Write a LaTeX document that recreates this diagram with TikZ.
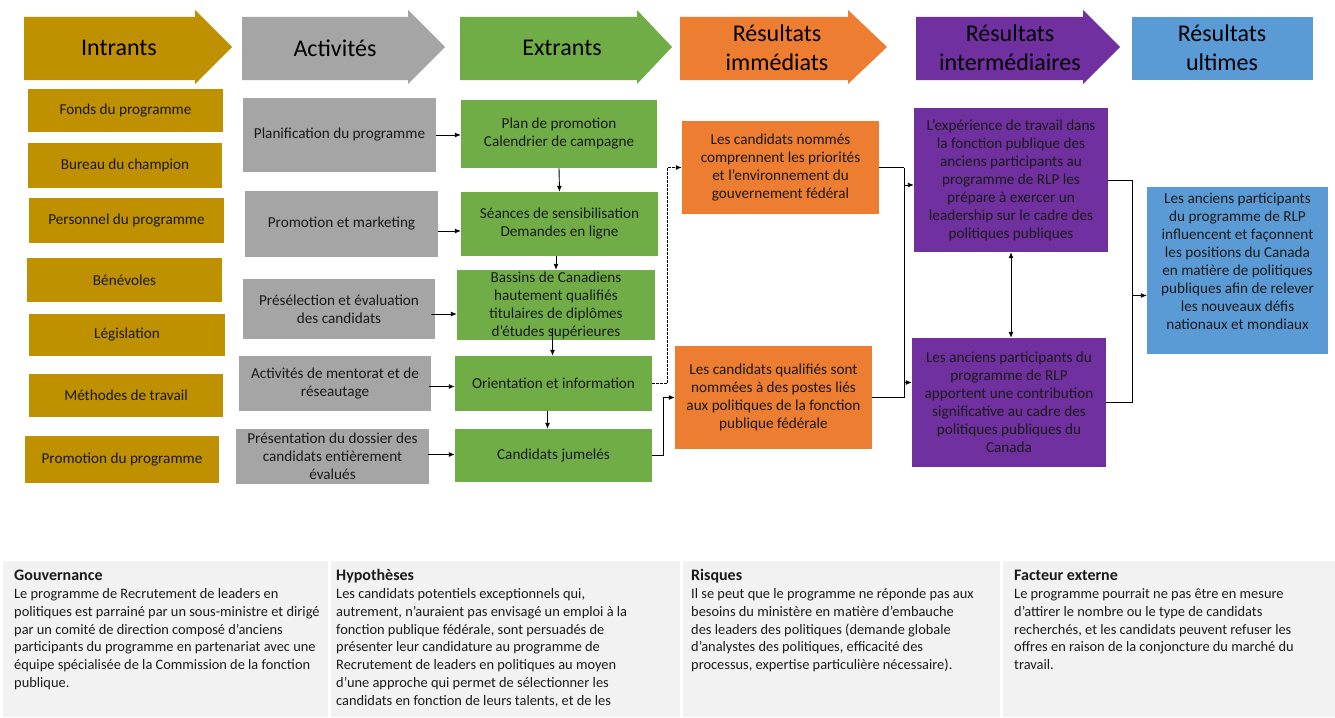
\documentclass[tikz,border=0pt]{standalone}
\usepackage{fontspec}
\setmainfont{Carlito}
\usetikzlibrary{arrows.meta,calc}
\definecolor{cgold}{HTML}{BF9000}
\definecolor{cgray}{HTML}{A5A5A5}
\definecolor{cgreen}{HTML}{70AD47}
\definecolor{corange}{HTML}{ED7D31}
\definecolor{cpurple}{HTML}{7030A0}
\definecolor{cblue}{HTML}{5B9BD5}
\definecolor{cpanel}{HTML}{F2F2F2}
\definecolor{ctext}{HTML}{1A1A1A}
\newcommand\bxfont{\fontsize{15.2}{18}\selectfont}
\newcommand\hdfont{\fontsize{24}{29.5}\selectfont}
\newcommand\btfont{\fontsize{14.4}{17.8}\selectfont}
\newcommand\bthead[1]{{\fontsize{16}{17.8}\selectfont\bfseries #1}}
\tikzset{
  box/.style={inner sep=0pt, align=center, font=\bxfont, text=ctext},
  gold/.style={box, fill=cgold},
  grey/.style={box, fill=cgray},
  green/.style={box, fill=cgreen},
  orange/.style={box, fill=corange},
  purple/.style={box, fill=cpurple},
  blue/.style={box, fill=cblue},
  hdr/.style={inner sep=0pt, align=center, font=\hdfont, text=black},
  btxt/.style={inner sep=0pt, align=left, font=\btfont, text=ctext, anchor=north west},
  conn/.style={line width=0.9pt, draw=black},
  arr/.style={conn, -{Latex[length=6pt,width=5pt]}},
  darr/.style={conn, {Latex[length=6pt,width=5pt]}-{Latex[length=6pt,width=5pt]}},
  dash conn/.style={arr, dash pattern=on 2.5pt off 1.5pt},
}
\newcommand\bx[7]{\node[#6,minimum width={(#4-#2)*1pt},minimum height={(#5-#3)*1pt}] (#1) at ({(#2+#4)/2},{(#3+#5)/2}) {#7};}
\newcommand\harrow[4]{\fill[#4] (#1,17) -- (#2,17) -- (#2,10) -- (#3,47) -- (#2,84) -- (#2,80) -- (#1,80) -- cycle;}
\begin{document}
\begin{tikzpicture}[x=1pt,y=-1pt]
\useasboundingbox (0,0) rectangle (1335,717);
\fill[white] (0,0) rectangle (1335,717);
% header arrows
\harrow{24}{195}{232}{cgold}
\harrow{242}{408}{445}{cgray}
\harrow{460}{637}{672}{cgreen}
\harrow{680}{848}{887}{corange}
\harrow{916}{1083}{1120}{cpurple}
\fill[cblue] (1132,17) rectangle (1313,80);
\node[hdr] (hI) at (119,48) {Intrants};
\node[hdr] (hA) at (335,48) {Activités};
\node[hdr] (hE) at (562,48) {Extrants};
\node[hdr] (hR1) at (777,48) {Résultats\\immédiats};
\node[hdr] (hR2) at (1010,48) {Résultats\\intermédiaires};
\node[hdr] (hR3) at (1222,48) {Résultats\\ultimes};
% inputs
\bx{i1}{28}{89}{223}{132}{gold}{Fonds du programme}
\bx{i2}{28}{143}{222}{188}{gold}{Bureau du champion}
\bx{i3}{29}{198}{224}{243}{gold}{Personnel du programme}
\bx{i4}{27}{258}{222}{302}{gold}{Bénévoles}
\bx{i5}{29}{314}{225}{356}{gold}{Législation}
\bx{i6}{29}{374}{223}{417}{gold}{Méthodes de travail}
\bx{i7}{25}{436}{219}{483}{gold}{Promotion du programme}
% activities
\bx{g1}{243}{98}{436}{172}{grey}{Planification du programme}
\bx{g2}{245}{191}{438}{257}{grey}{Promotion et marketing}
\bx{g3}{243}{279}{435}{339}{grey}{Présélection et évaluation\\des candidats}
\bx{g4}{239}{356}{431}{411}{grey}{Activités de mentorat et de\\réseautage}
\bx{g5}{236}{429}{429}{484}{grey}{Présentation du dossier des\\candidats entièrement\\évalués}
% outputs
\bx{e1}{461}{100}{657}{168}{green}{Plan de promotion\\Calendrier de campagne}
\bx{e2}{461}{192}{658}{256}{green}{Séances de sensibilisation\\Demandes en ligne}
\bx{e3}{457}{270}{655}{340}{green}{Bassins de Canadiens\\hautement qualifiés\\titulaires de diplômes\\d’études supérieures}
\bx{e4}{455}{356}{652}{411}{green}{Orientation et information}
\bx{e5}{455}{429}{652}{482}{green}{Candidats jumelés}
% immediate
\bx{o1}{682}{121}{879}{214}{orange}{Les candidats nommés\\comprennent les priorités\\et l’environnement du\\gouvernement fédéral}
\bx{o2}{675}{346}{872}{449}{orange}{Les candidats qualifiés sont\\nommées à des postes liés\\aux politiques de la fonction\\publique fédérale}
% intermediate
\bx{p1}{914}{108}{1108}{252}{purple}{L’expérience de travail dans\\la fonction publique des\\anciens participants au\\programme de RLP les\\prépare à exercer un\\leadership sur le cadre des\\politiques publiques}
\bx{p2}{912}{338}{1106}{467}{purple}{Les anciens participants du\\programme de RLP\\apportent une contribution\\significative au cadre des\\politiques publiques du\\Canada}
% ultimate
\bx{u1}{1147}{187}{1328}{354}{blue}{}
\node[box] (ut) at (1237.5,261) {Les anciens participants\\du programme de RLP\\influencent et façonnent\\les positions du Canada\\en matière de politiques\\publiques afin de relever\\les nouveaux défis\\nationaux et mondiaux};
% connectors activities -> outputs
\draw[arr] (g1.east) -- (g1.east -| e1.west);
\draw[arr] ($(g2.east)+(0,7)$) coordinate (a2) -- (a2 -| e2.west);
\draw[arr] ($(g3.east)+(-4,5)$) coordinate (a3) -- (a3 -| e3.west);
\draw[arr] ($(g4.east)+(-2,3)$) coordinate (a4) -- (a4 -| e4.west);
\draw[arr] ($(g5.east)+(-1,-2)$) coordinate (a5) -- (a5 -| e5.west);
% vertical outputs
\draw[arr] (e1.south) -- (e2.north);
\draw[arr] (e2.south -| e3.north) -- (e3.north);
\draw[arr] ($(e3.south -| e4.north)+(-1,-12)$) coordinate (v3) -- (v3 |- e4.north);
\draw[arr] ($(e4.south)+(-6,0)$) coordinate (v4) -- (v4 |- e5.north);
% outputs -> immediate
\draw[dash conn] (e4.east) -- ++(15,0) |- (o1.west);
\draw[arr] (e5.east) -- ++(11,0) |- (o2.west);
% immediate -> intermediate
\draw[conn] (o1.east) -- ++(25,0) coordinate (j1);
\draw[conn] (o2.east) -| (j1);
\coordinate (pa) at ($(p1.west)+(0,5)$);
\coordinate (pb) at ($(p2.west)+(0,-20)$);
\draw[arr] (j1 |- pa) -- (pa);
\draw[arr] (j1 |- pb) -- (pb);
\draw[darr] (p1.south) -- (p1.south |- p2.north);
% intermediate -> ultimate
\draw[conn] (p1.east) -- ++(24,0) coordinate (j2);
\draw[conn] (p2.east) -| (j2);
\coordinate (ua) at ($(u1.west)+(0,25)$);
\draw[arr] (j2 |- ua) -- (ua);
% bottom panels
\fill[cpanel] (3,561) rectangle (328,717);
\fill[cpanel] (331,561) rectangle (680,717);
\fill[cpanel] (683,561) rectangle (1000,717);
\fill[cpanel] (1003,561) rectangle (1335,717);
\node[btxt] (tg) at (14,568) {\strut\bthead{Gouvernance}\\
Le programme de Recrutement de leaders en\\
politiques est parrainé par un sous-ministre et dirigé\\
par un comité de direction composé d’anciens\\
participants du programme en partenariat avec une\\
équipe spécialisée de la Commission de la fonction\\
publique.};
\node[btxt] (th) at (336,568) {\strut\bthead{Hypothèses}\\
Les candidats potentiels exceptionnels qui,\\
autrement, n’auraient pas envisagé un emploi à la\\
fonction publique fédérale, sont persuadés de\\
présenter leur candidature au programme de\\
Recrutement de leaders en politiques au moyen\\
d’une approche qui permet de sélectionner les\\
candidats en fonction de leurs talents, et de les};
\node[btxt] (tr) at (691,568) {\strut\bthead{Risques}\\
Il se peut que le programme ne réponde pas aux\\
besoins du ministère en matière d’embauche\\
des leaders des politiques (demande globale\\
d’analystes des politiques, efficacité des\\
processus, expertise particulière nécessaire).};
\node[btxt] (tf) at (1014,568) {\strut\bthead{Facteur externe}\\
Le programme pourrait ne pas être en mesure\\
d’attirer le nombre ou le type de candidats\\
recherchés, et les candidats peuvent refuser les\\
offres en raison de la conjoncture du marché du\\
travail.};
\end{tikzpicture}
\end{document}
